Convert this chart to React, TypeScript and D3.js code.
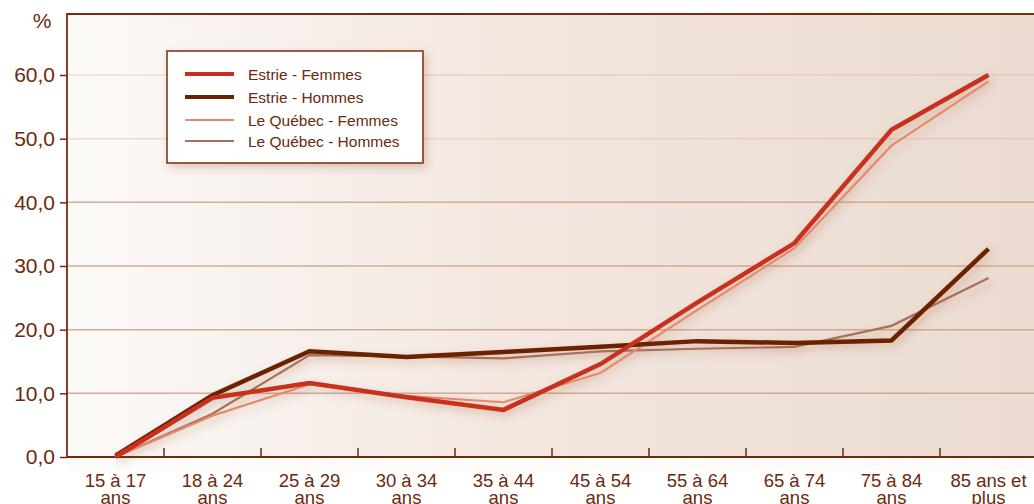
import * as d3 from "d3";
import { useEffect, useRef } from "react";

const categories = [
  ["15 à 17", "ans"],
  ["18 à 24", "ans"],
  ["25 à 29", "ans"],
  ["30 à 34", "ans"],
  ["35 à 44", "ans"],
  ["45 à 54", "ans"],
  ["55 à 64", "ans"],
  ["65 à 74", "ans"],
  ["75 à 84", "ans"],
  ["85 ans et", "plus"],
];

const estrieFemmes = [0, 9.3, 11.6, 9.4, 7.4, 14.6, 24.3, 33.6, 51.4, 60.0];
const estrieHommes = [0.2, 9.7, 16.6, 15.7, 16.5, 17.3, 18.2, 17.9, 18.3, 32.7];
const quebecFemmes = [0, 6.5, 11.4, 9.6, 8.6, 13.2, 23.1, 32.8, 48.9, 59.0];
const quebecHommes = [0, 6.8, 16.0, 15.8, 15.5, 16.6, 17.0, 17.3, 20.6, 28.1];

const yTicks = [0, 10, 20, 30, 40, 50, 60];

const seriesNames = [
  "Estrie - Femmes",
  "Estrie - Hommes",
  "Le Québec - Femmes",
  "Le Québec - Hommes",
];

export default function App() {
  const svgRef = useRef(null);

  useEffect(() => {
    const w = 1034;
    const h = 504;
    const left = 67;
    const top = 14;
    const bottom = 457;
    const ink = "#6b2a0e";
    const font = "'Liberation Sans', Arial, sans-serif";

    const svg = d3.select(svgRef.current);
    svg.selectAll("*").remove();
    svg.attr("width", w).attr("height", h);

    const defs = svg.append("defs");
    const bg = defs
      .append("linearGradient")
      .attr("id", "bg")
      .attr("x1", "0")
      .attr("x2", "1")
      .attr("y1", "0")
      .attr("y2", "0");
    bg.append("stop").attr("offset", "0").attr("stop-color", "#fcfaf8");
    bg.append("stop").attr("offset", "0.45").attr("stop-color", "#f3e7e0");
    bg.append("stop").attr("offset", "1").attr("stop-color", "#ebdbd0");

    const shadow = defs
      .append("filter")
      .attr("id", "shadow")
      .attr("x", "-10%")
      .attr("y", "-10%")
      .attr("width", "120%")
      .attr("height", "120%");
    shadow
      .append("feDropShadow")
      .attr("dx", 3)
      .attr("dy", 4)
      .attr("stdDeviation", 4)
      .attr("flood-color", "#8a3a18")
      .attr("flood-opacity", 0.25);

    const x = d3
      .scaleBand()
      .domain(categories.map((c) => c.join(" ")))
      .range([left, 1037]);
    const y = d3.scaleLinear().domain([0, 60]).range([bottom, 75]);
    const cx = (i) => x(categories[i].join(" ")) + x.bandwidth() / 2;

    // plot background
    svg
      .append("rect")
      .attr("x", left)
      .attr("y", top)
      .attr("width", w - left)
      .attr("height", bottom - top)
      .attr("fill", "url(#bg)");
    svg
      .append("rect")
      .attr("x", left)
      .attr("y", bottom)
      .attr("width", w - left)
      .attr("height", 14)
      .attr("fill", "#fdfbfa");

    // gridlines
    svg
      .append("g")
      .selectAll("line")
      .data(yTicks.filter((t) => t > 0))
      .enter()
      .append("line")
      .attr("x1", left)
      .attr("x2", w)
      .attr("y1", (d) => y(d))
      .attr("y2", (d) => y(d))
      .attr("stroke", "#cf9f84")
      .attr("stroke-opacity", (d) => (d >= 50 ? 0.3 : 0.85))
      .attr("stroke-width", 1.5);

    // y axis
    const yAxis = d3
      .axisLeft(y)
      .tickValues(yTicks)
      .tickSize(7)
      .tickPadding(5)
      .tickFormat((d) => d3.format(".1f")(d).replace(".", ","));
    const gy = svg.append("g").attr("transform", `translate(${left},0)`).call(yAxis);
    gy.select(".domain").remove();
    gy.selectAll("line").attr("stroke", ink).attr("stroke-width", 1.5);
    gy.selectAll("text")
      .attr("fill", ink)
      .style("font-family", font)
      .style("font-size", "21px");

    svg
      .append("text")
      .attr("x", 42)
      .attr("y", 28)
      .attr("text-anchor", "middle")
      .attr("fill", ink)
      .style("font-family", font)
      .style("font-size", "21px")
      .text("%");

    // frame
    svg
      .append("path")
      .attr("d", `M${w},${top}H${left}V${bottom}H${w}`)
      .attr("fill", "none")
      .attr("stroke", "#7a2a0c")
      .attr("stroke-width", 1.8);

    // x ticks (upward, between bands)
    svg
      .append("g")
      .selectAll("line")
      .data(categories.slice(1))
      .enter()
      .append("line")
      .attr("x1", (d) => x(d.join(" ")))
      .attr("x2", (d) => x(d.join(" ")))
      .attr("y1", bottom)
      .attr("y2", bottom - 9)
      .attr("stroke", ink)
      .attr("stroke-width", 1.5);

    // x labels
    const xl = svg
      .append("g")
      .selectAll("text")
      .data(categories)
      .enter()
      .append("text")
      .attr("text-anchor", "middle")
      .attr("fill", ink)
      .style("font-family", font)
      .style("font-size", "18.5px");
    xl.append("tspan")
      .attr("x", (d, i) => cx(i))
      .attr("y", 487)
      .text((d) => d[0]);
    xl.append("tspan")
      .attr("x", (d, i) => cx(i))
      .attr("y", 504)
      .text((d) => d[1]);

    // lines
    const line = d3
      .line()
      .x((d, i) => cx(i))
      .y((d) => y(d));
    const series = [
      { v: quebecHommes, c: "#a87058", w: 2.2 },
      { v: quebecFemmes, c: "#e48a6c", w: 2.2 },
      { v: estrieHommes, c: "#6a2102", w: 4.5 },
      { v: estrieFemmes, c: "#c8301c", w: 4.5 },
    ];
    const lg = svg.append("g").attr("filter", "url(#shadow)");
    series.forEach((s) => {
      lg.append("path")
        .attr("d", line(s.v))
        .attr("fill", "none")
        .attr("stroke", s.c)
        .attr("stroke-width", s.w)
        .attr("stroke-linejoin", "miter");
    });

    // legend
    const legend = svg.append("g");
    legend
      .append("rect")
      .attr("x", 167)
      .attr("y", 51)
      .attr("width", 256)
      .attr("height", 112)
      .attr("fill", "#ffffff")
      .attr("stroke", "#7a2a0c")
      .attr("stroke-width", 1.5)
      .attr("filter", "url(#shadow)");
    const legendStyle = [
      { c: "#c8301c", w: 4 },
      { c: "#6a2102", w: 4 },
      { c: "#e48a6c", w: 2 },
      { c: "#a87058", w: 2 },
    ];
    const rowsY = [74, 97, 120, 141];
    seriesNames.forEach((name, i) => {
      legend
        .append("line")
        .attr("x1", 185)
        .attr("x2", 234)
        .attr("y1", rowsY[i])
        .attr("y2", rowsY[i])
        .attr("stroke", legendStyle[i].c)
        .attr("stroke-width", legendStyle[i].w);
      legend
        .append("text")
        .attr("x", 248)
        .attr("y", rowsY[i] + 6)
        .attr("fill", ink)
        .style("font-family", font)
        .style("font-size", "15.5px")
        .text(name);
    });
  }, []);

  return (
    <svg
      ref={svgRef}
      style={{ position: "absolute", left: 0, top: 0, display: "block" }}
    ></svg>
  );
}
